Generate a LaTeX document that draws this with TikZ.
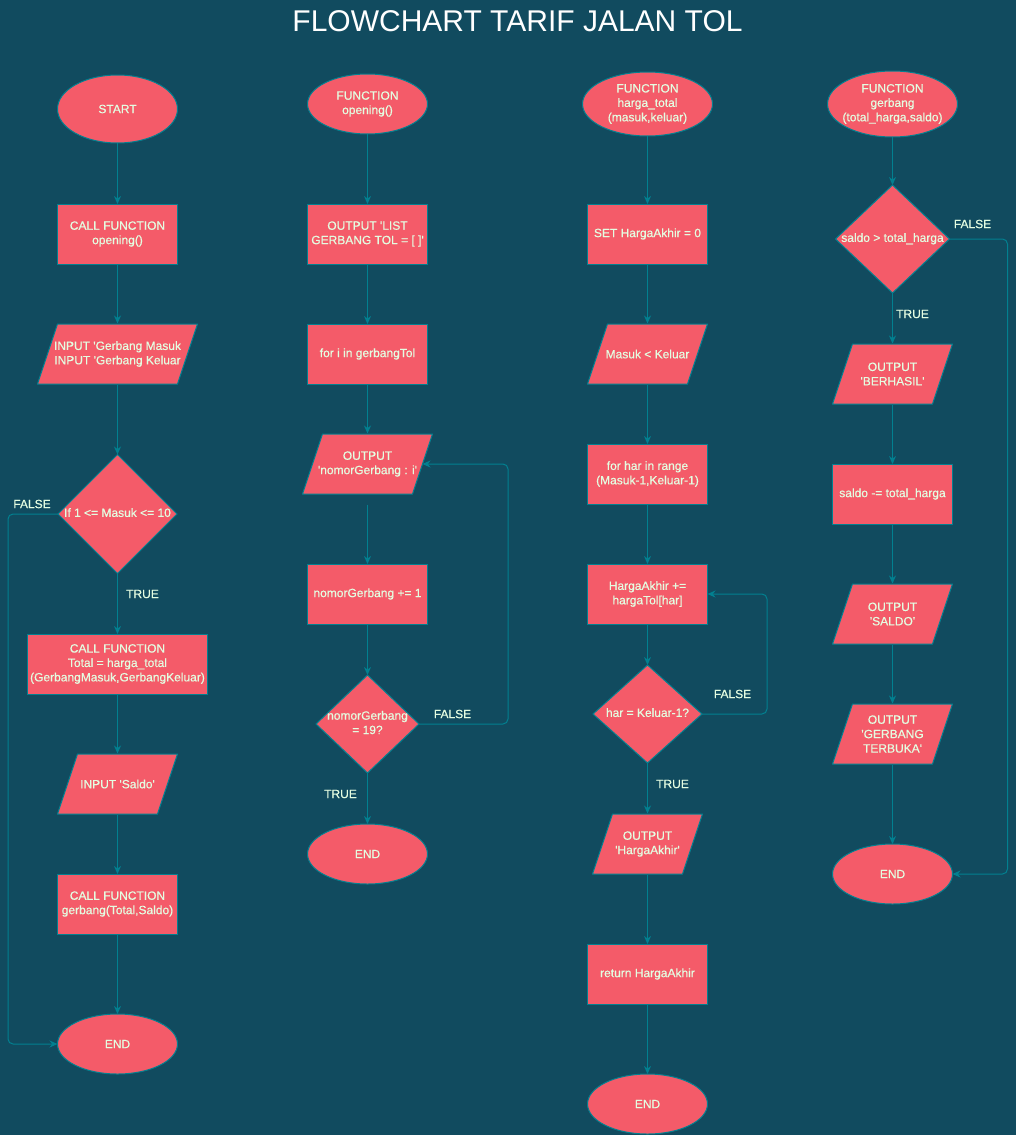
\documentclass[tikz,border=0pt]{standalone}
\usepackage{fontspec}
\usetikzlibrary{shapes.geometric,arrows.meta}
\newfontfamily\labelfam{Liberation Sans}[FakeBold=0.5]
\newfontfamily\headfam{Liberation Sans}
\newcommand\nodefont{\labelfam\fontsize{12}{14.4}\selectfont}
\newcommand\headfont{\headfam\fontsize{30}{36}\selectfont}
% zero-width stacked lines, so ellipses and diamonds keep their set size
\newcommand\stk[1]{\makebox[0pt]{\begin{tabular}{@{}c@{}}#1\end{tabular}}}
\definecolor{bg}{HTML}{114B5F}
\definecolor{shapefill}{HTML}{F45B69}
\definecolor{edge}{HTML}{028090}
\definecolor{ink}{HTML}{E4FDE1}
\tikzset{
  base/.style={draw=edge, fill=shapefill, line width=1pt, text=ink, font=\nodefont,
    inner sep=1pt, outer sep=0pt},
  proc/.style={base, rectangle, minimum width=#1, minimum height=60pt, align=center},
  proc/.default=120pt,
  term/.style 2 args={base, ellipse, minimum width=#1, minimum height=#2},
  decide/.style 2 args={base, diamond, minimum width=#1, minimum height=#2},
  % parallelogram (data) box drawn inside its rectangle, skew 20pt
  io/.style={rectangle, fill=bg, minimum width=#1, minimum height=61pt, inner sep=1pt,
    outer sep=0pt, text=ink, font=\nodefont, align=center,
    path picture={
      \filldraw[fill=shapefill, draw=edge, line width=1pt]
        ([xshift=20.5pt,yshift=-0.5pt]path picture bounding box.north west)
        -- ([xshift=-0.5pt,yshift=-0.5pt]path picture bounding box.north east)
        -- ([xshift=-20.5pt,yshift=0.5pt]path picture bounding box.south east)
        -- ([xshift=0.5pt,yshift=0.5pt]path picture bounding box.south west)
        -- cycle;}},
  flow/.style={draw=edge, line width=1pt, rounded corners=5pt,
    -{Stealth[length=8pt,width=7pt]}},
  lbl/.style={text=ink, font=\nodefont, inner sep=0pt}
}
\begin{document}
\begin{tikzpicture}[x=1pt,y=-1pt]
\fill[bg] (0,0) rectangle (1016,1135);
\useasboundingbox (0,0) rectangle (1016,1135);

\node[font=\headfont, text=white, anchor=base, inner sep=0pt] (title) at (517.5,31)
  {FLOWCHART TARIF JALAN TOL};

% main program
\node[term={120pt}{68pt}] (start) at (117.5,109) {START};
\node[proc] (callOpen) at (117.5,234) {CALL FUNCTION\\opening()};
\node[io=161pt] (inGate) at (117.5,354) {INPUT 'Gerbang Masuk\\INPUT 'Gerbang Keluar};
\node[decide={119pt}{119pt}] (chkGate) at (117.5,514) {\stk{If 1 <= Masuk <= 10}};
\node[proc=180pt] (callTotal) at (117.5,664)
  {CALL FUNCTION\\Total = harga\_total\\(GerbangMasuk,GerbangKeluar)};
\node[io=121pt] (inSaldo) at (117.5,784) {INPUT 'Saldo'};
\node[proc] (callGate) at (117.5,904) {CALL FUNCTION\\gerbang(Total,Saldo)};
\node[term={120pt}{60pt}] (end1) at (117.5,1044) {END};

% opening()
\node[term={120pt}{60pt}] (fnOpen) at (367.5,104) {\stk{FUNCTION\\opening()}};
\node[proc] (outList) at (367.5,234) {OUTPUT 'LIST\\GERBANG TOL = [ ]'};
\node[proc] (loopI) at (367.5,354) {for i in gerbangTol};
\node[io=131pt] (outNomor) at (367.5,464) {OUTPUT\\'nomorGerbang : i'};
\node[proc] (incNomor) at (367.5,594) {nomorGerbang += 1};
\node[decide={103pt}{98pt}] (chkNomor) at (367.5,724) {\stk{nomorGerbang\\= 19?}};
\node[term={120pt}{60pt}] (end2) at (367.5,854) {END};

% harga_total(masuk,keluar)
\node[term={130pt}{64pt}] (fnHarga) at (647.5,104) {\stk{FUNCTION\\harga\_total\\(masuk,keluar)}};
\node[proc] (setHarga) at (647.5,234) {SET HargaAkhir = 0};
\node[io=121pt] (cmpMasuk) at (647.5,354) {Masuk < Keluar};
\node[proc] (loopHar) at (647.5,474) {for har in range\\(Masuk-1,Keluar-1)};
\node[proc] (addHarga) at (647.5,594) {HargaAkhir +=\\hargaTol[har]};
\node[decide={109pt}{98pt}] (chkHar) at (647.5,714) {\stk{har = Keluar-1?}};
\node[io=111pt] (outHarga) at (647.5,844) {OUTPUT\\'HargaAkhir'};
\node[proc] (retHarga) at (647.5,974) {return HargaAkhir};
\node[term={120pt}{60pt}] (end3) at (647.5,1104) {END};

% gerbang(total_harga,saldo)
\node[term={130pt}{66pt}] (fnGate) at (892.5,104) {\stk{FUNCTION\\gerbang\\(total\_harga,saldo)}};
\node[decide={114pt}{108pt}] (chkSaldo) at (892.5,239) {\stk{saldo > total\_harga}};
\node[io=121pt] (outOk) at (892.5,374) {OUTPUT\\'BERHASIL'};
\node[proc] (subSaldo) at (892.5,494) {saldo -= total\_harga};
\node[io=121pt] (outSaldo) at (892.5,614) {OUTPUT\\'SALDO'};
\node[io=121pt] (outOpen) at (892.5,734) {OUTPUT\\'GERBANG\\TERBUKA'};
\node[term={120pt}{60pt}] (end4) at (892.5,874) {END};

% connectors: main program
\draw[flow] (start.south) -- (callOpen.north);
\draw[flow] (callOpen.south) -- (inGate.north);
\draw[flow] (inGate.south) -- (chkGate.north);
\draw[flow] (chkGate.south) -- (callTotal.north);
\draw[flow] (callTotal.south) -- (inSaldo.north);
\draw[flow] (inSaldo.south) -- (callGate.north);
\draw[flow] (callGate.south) -- (end1.north);
\draw[flow] (chkGate.west) -- ++(-50,0) |- (end1.west);

% connectors: opening()
\draw[flow] (fnOpen.south) -- (outList.north);
\draw[flow] (outList.south) -- (loopI.north);
\draw[flow] (loopI.south) -- (outNomor.north);
\draw[flow, shorten <=10pt] (outNomor.south) -- (incNomor.north);
\draw[flow] (incNomor.south) -- (chkNomor.north);
\draw[flow] (chkNomor.south) -- (end2.north);
\draw[flow] (chkNomor.east) -- ++(89,0) |- ([xshift=-10.5pt]outNomor.east);

% connectors: harga_total
\draw[flow] (fnHarga.south) -- (setHarga.north);
\draw[flow] (setHarga.south) -- (cmpMasuk.north);
\draw[flow] (cmpMasuk.south) -- (loopHar.north);
\draw[flow] (loopHar.south) -- (addHarga.north);
\draw[flow] (addHarga.south) -- (chkHar.north);
\draw[flow] (chkHar.south) -- (outHarga.north);
\draw[flow] (outHarga.south) -- (retHarga.north);
\draw[flow] (retHarga.south) -- (end3.north);
\draw[flow] (chkHar.east) -- ++(65,0) |- (addHarga.east);

% connectors: gerbang
\draw[flow] (fnGate.south) -- (chkSaldo.north);
\draw[flow] (chkSaldo.south) -- (outOk.north);
\draw[flow] (outOk.south) -- (subSaldo.north);
\draw[flow] (subSaldo.south) -- (outSaldo.north);
\draw[flow] (outSaldo.south) -- (outOpen.north);
\draw[flow] (outOpen.south) -- (end4.north);
\draw[flow] (chkSaldo.east) -- ++(58,0) |- (end4.east);

% branch labels
\node[lbl] (f1) at (32,504) {FALSE};
\node[lbl] (t1) at (142.5,594) {TRUE};
\node[lbl] (f2) at (452.5,714) {FALSE};
\node[lbl] (t2) at (340.5,794) {TRUE};
\node[lbl] (f3) at (732.5,694) {FALSE};
\node[lbl] (t3) at (672.5,784) {TRUE};
\node[lbl] (f4) at (972.5,224) {FALSE};
\node[lbl] (t4) at (912.5,314) {TRUE};
\end{tikzpicture}
\end{document}
